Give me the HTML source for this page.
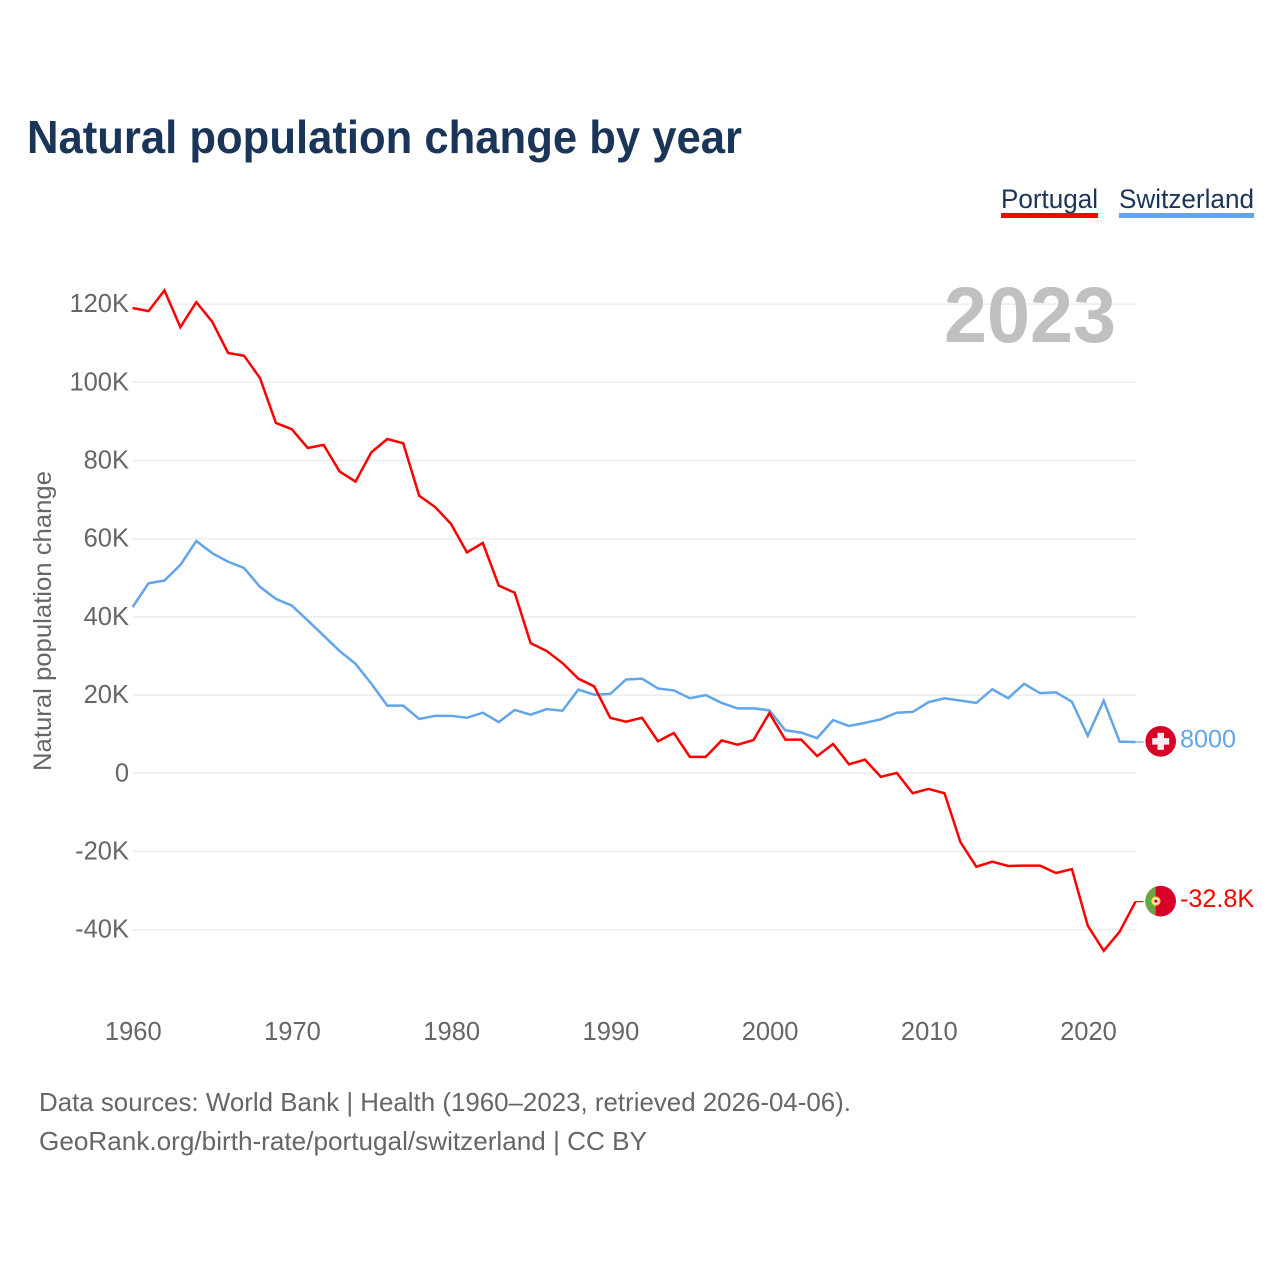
<!DOCTYPE html>
<html lang="en">
<head>
<meta charset="utf-8">
<title>Natural population change by year</title>
<style>
  html, body { margin: 0; padding: 0; background: #fff; }
  svg { display: block; font-family: "Liberation Sans", sans-serif; }
</style>
</head>
<body>
<svg id="chart" xmlns="http://www.w3.org/2000/svg" width="1280" height="1280" viewBox="0 0 1280 1280">
  <rect x="0" y="0" width="1280" height="1280" fill="#ffffff"/>
  <text x="27" y="153" font-size="46" font-weight="700" fill="#1a3557" textLength="715" lengthAdjust="spacingAndGlyphs">Natural population change by year</text>

  <g>
    <text x="1001" y="208" font-size="27" fill="#1a3557" textLength="97" lengthAdjust="spacingAndGlyphs">Portugal</text>
    <rect x="1001" y="213" width="97" height="5" fill="#ff0000"/>
  </g>
  <g>
    <text x="1119" y="208" font-size="27" fill="#1a3557" textLength="135" lengthAdjust="spacingAndGlyphs">Switzerland</text>
    <rect x="1119" y="213" width="135" height="5" fill="#62a5ea"/>
  </g>

  <g id="grid"></g>
  <g id="yticks"></g>
  <g id="xticks"></g>

  <text transform="translate(51,621) rotate(-90)" text-anchor="middle" font-size="25" fill="#666666" textLength="300" lengthAdjust="spacingAndGlyphs">Natural population change</text>
  <text x="1116" y="342" text-anchor="end" font-size="79" font-weight="700" fill="#c0c0c0" textLength="172" lengthAdjust="spacingAndGlyphs">2023</text>

  <g id="series"></g>

  <g id="end-labels"></g>

  <text x="39" y="1111" font-size="26" fill="#666666" textLength="812" lengthAdjust="spacingAndGlyphs">Data sources: World Bank | Health (1960–2023, retrieved 2026-04-06).</text>
  <text x="39" y="1150" font-size="26" fill="#666666" textLength="608" lengthAdjust="spacingAndGlyphs">GeoRank.org/birth-rate/portugal/switzerland | CC BY</text>
</svg>

<script>
// Chart data (values in thousands)
var startYear = 1960;
var portugalValues = [119.0,118.2,123.5,114.1,120.5,115.5,107.5,106.8,101.1,89.6,
  88.0,83.2,84.0,77.2,74.6,82.1,85.5,84.4,71.0,68.1,
  63.8,56.5,58.9,48.0,46.2,33.3,31.3,28.2,24.2,22.2,
  14.2,13.2,14.2,8.2,10.3,4.2,4.2,8.4,7.3,8.5,
  15.4,8.6,8.6,4.4,7.5,2.3,3.5,-0.9,0.1,-5.1,
  -4.0,-5.1,-17.6,-23.9,-22.6,-23.7,-23.6,-23.6,-25.5,-24.5,
  -39.0,-45.4,-40.5,-32.8];
var switzerlandValues = [42.5,48.6,49.3,53.3,59.4,56.3,54.1,52.5,47.7,44.6,
  42.9,39.1,35.2,31.3,28.0,22.9,17.3,17.3,13.9,14.7,
  14.7,14.2,15.5,13.1,16.2,15.0,16.4,16.0,21.4,20.1,
  20.3,24.0,24.2,21.7,21.2,19.2,20.0,18.0,16.6,16.6,
  16.1,11.0,10.4,9.0,13.6,12.1,12.9,13.8,15.5,15.7,
  18.2,19.2,18.6,18.0,21.5,19.2,22.9,20.5,20.7,18.3,
  9.6,18.6,8.1,8.0];
var yTickValues = [120,100,80,60,40,20,0,-20,-40];
var yTickLabels = ["120K","100K","80K","60K","40K","20K","0","-20K","-40K"];
var xTickYears = [1960,1970,1980,1990,2000,2010,2020];
var xTickLabels = ["1960","1970","1980","1990","2000","2010","2020"];

function xScale(year) { return 132.6 + (year - 1960) * 15.92; }
function yScale(v) { return 773.3 - v * 3.91; }
function formatValue(v) {
  return Math.abs(v) < 10 ? String(Math.round(v * 1000)) : v.toFixed(1) + "K";
}

var NS = "http://www.w3.org/2000/svg";
function make(tag, parentId, attrs) {
  var el = document.createElementNS(NS, tag);
  for (var k in attrs) { el.setAttribute(k, attrs[k]); }
  document.getElementById(parentId).appendChild(el);
  return el;
}

yTickValues.forEach(function (v, i) {
  var line = make("line", "grid", {x1: 133, x2: 1136, y1: yScale(v), y2: yScale(v), stroke: "#ececec", "stroke-width": 1.5});
  
  
  var label = make("text", "yticks", {x: 129, y: yScale(v) + 8, "text-anchor": "end", "font-size": 25.5, fill: "#666666"});
  
  
  label.textContent = yTickLabels[i];
});

xTickYears.forEach(function (yr, i) {
  var label = make("text", "xticks", {x: xScale(yr) + 0.7, y: 1040, "text-anchor": "middle", "font-size": 25.5, fill: "#666666"});
  
  
  label.textContent = xTickLabels[i];
});

function drawLine(values, color, name) {
  var pts = values.map(function (v, i) {
    return xScale(startYear + i).toFixed(2) + "," + yScale(v).toFixed(2);
  }).join(" ");
  var line = make("polyline", "series", {points: pts, fill: "none", stroke: color, "stroke-width": 2.5, "stroke-linejoin": "miter"});
  
  
}
drawLine(switzerlandValues, "#62a5ea", "series-line-switzerland");
drawLine(portugalValues, "#ff0000", "series-line-portugal");

function drawEnd(values, color, name) {
  var last = values[values.length - 1];
  var y = yScale(last);
  var x = xScale(startYear + values.length - 1);
  var stub = make("line", "end-labels", {x1: x, x2: x + 8, y1: y, y2: y, stroke: color, "stroke-width": 1.2});
  
  
  var label = make("text", "end-labels", {x: 1180, y: y + 5.6, "font-size": 25.2, fill: color});
  
  
  label.textContent = formatValue(last);
  return y;
}

var cy1 = drawEnd(switzerlandValues, "#62a5ea", "switzerland") - 0.7;
var cy2 = drawEnd(portugalValues, "#ff0000", "portugal") - 0.4;

// Switzerland flag
var swissDisc = make("circle", "end-labels", {cx: 1160.7, cy: cy1, r: 15.3, fill: "#d80027"});


var crossH = make("rect", "end-labels", {x: 1152.2, y: cy1 - 3.2, width: 17, height: 6.5, fill: "#f0f0f0"});


var crossV = make("rect", "end-labels", {x: 1157.5, y: cy1 - 8.5, width: 6.5, height: 17, fill: "#f0f0f0"});



// Portugal flag
var ptDisc = make("circle", "end-labels", {cx: 1160.7, cy: cy2, r: 15.3, fill: "#d80027"});


var ptGreen = make("path", "end-labels", {d: "M1155.7 " + (cy2 - 14.5) + " A15.3 15.3 0 0 0 1155.7 " + (cy2 + 14.5) + " Z", fill: "#6da544"});


var ptRing = make("circle", "end-labels", {cx: 1155.9, cy: cy2, r: 3.8, fill: "#f0f0f0", stroke: "#ffda44", "stroke-width": 1.6});


var ptShield = make("circle", "end-labels", {cx: 1155.9, cy: cy2, r: 1.6, fill: "#d80027"});


</script>
</body>
</html>
